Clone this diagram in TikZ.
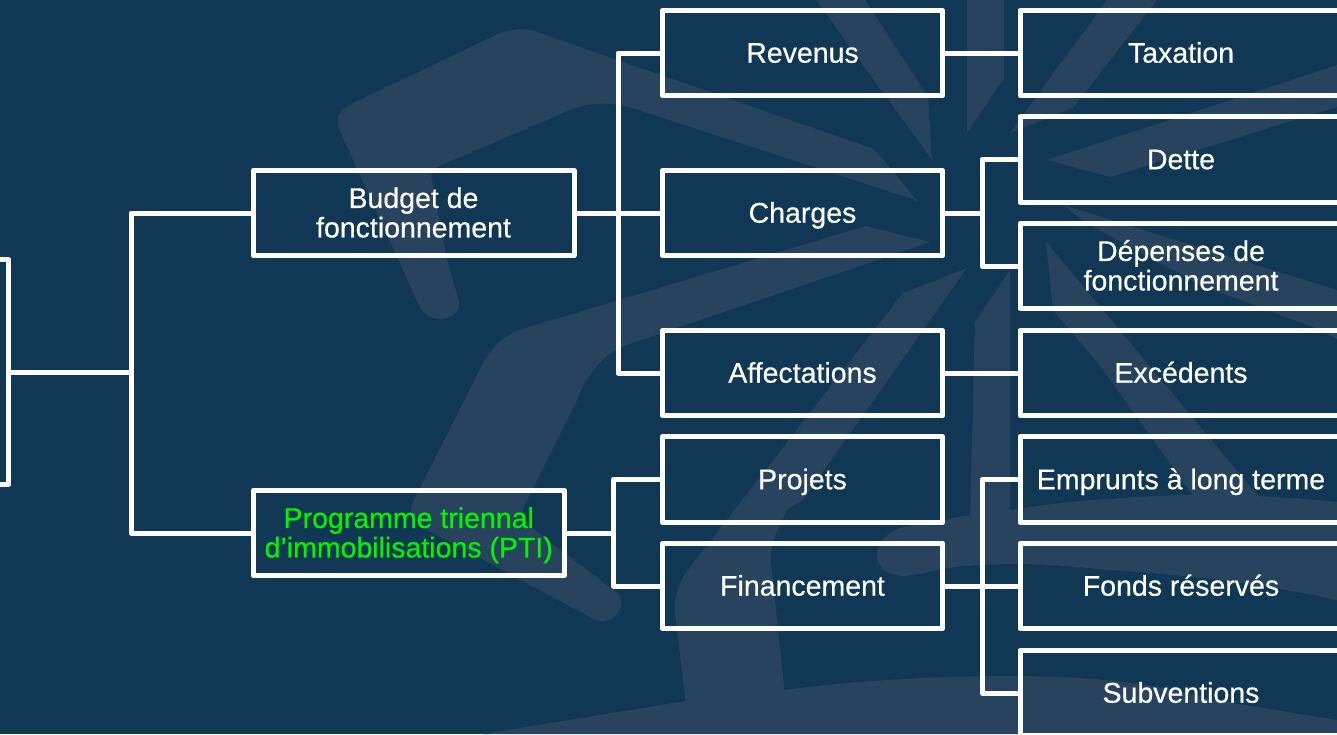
\documentclass[tikz,border=0pt]{standalone}
\usepackage{fontspec}
\setmainfont[FakeBold=0.5]{Liberation Sans}
\definecolor{bgc}{HTML}{103753}
\definecolor{wm}{HTML}{28435E}
\definecolor{grn}{HTML}{00F500}
\tikzset{
  x=1pt,y=-1pt,
  wmk/.style={fill=wm,draw=none},
  box/.style={draw=white,line width=5pt,line join=round,inner sep=0pt,outer sep=0pt,align=center,
    text=white,font=\fontsize{28.5}{29.5}\selectfont,text height=22pt,text depth=2.6pt},
  twoline/.style={text height=51.5pt},
  midbox/.style={box,minimum width=280.5pt,minimum height=85.5pt},
  rightbox/.style={box,minimum width=322pt,minimum height=85.5pt},
  conn/.style={draw=white,line width=5pt,line join=round},
}
\begin{document}
\begin{tikzpicture}
\clip (0,0) rectangle (1337,734);
\fill[bgc] (0,0) rectangle (1337,734);
% watermark
\fill[wmk] (338,127) .. controls (336,117) and (340,109) .. (353,103) -- (492,37)
  .. controls (505,29) and (525,27) .. (537,32) -- (874,149) -- (918,201) -- (639,110)
  .. controls (615,102) and (590,100) .. (563,113) -- (430,170) -- (447,260) -- (458,297)
  .. controls (462,312) and (452,319) .. (440,319) .. controls (428,319) and (421,311) .. (418,303) -- cycle;
\fill[wmk] (930,242) -- (866,226) -- (519,330) .. controls (505,335) and (492,347) .. (483,363)
  -- (412,504) .. controls (410,512) and (412,520) .. (420,526) -- (590,617)
  .. controls (600,624) and (612,622) .. (619,611) .. controls (624,602) and (620,593) .. (612,589)
  -- (535,530) .. controls (525,522) and (521,515) .. (524,506) -- (577,400)
  .. controls (585,378) and (600,358) .. (621,347) -- cycle;
\fill[wmk] (816,0) -- (865,0) -- (928,97) -- (932,160) -- cycle;
\fill[wmk] (967,0) -- (1004,0) -- (1004,78) -- (967,133) -- cycle;
\fill[wmk] (1107,0) -- (1157,0) -- (1073,108) -- (1010,133) -- cycle;
\fill[wmk] (1047,160) -- (1337,65) -- (1337,107) -- (1110,177) -- cycle;
\fill[wmk] (1046,242) -- (1259,497) -- (1194,497) -- (1101,367) -- (1053,310) -- cycle;
\fill[wmk] (1063,205) -- (1337,290) -- (1337,339) -- (1313,327) -- (1200,285) -- (1085,222) -- cycle;
\fill[wmk] (967,268) -- (903,293) -- (684,575) .. controls (677,588) and (674,600) .. (675,613)
  -- (686,705) -- (785,695) -- (771,563) .. controls (770,545) and (775,535) .. (787,510) -- (803,500) -- cycle;
\fill[wmk] (1010,270) -- (975,322) -- (970,519) -- (1010,515) -- cycle;
\fill[wmk] (882,540) .. controls (890,532) and (895,530) .. (903,527) -- (970,515) -- (1010,510)
  .. controls (1050,504) and (1080,500) .. (1108,499) .. controls (1160,495) and (1200,494) .. (1228,495)
  .. controls (1270,496) and (1310,499) .. (1337,502) -- (1337,600)
  .. controls (1270,585) and (1190,575) .. (1108,570) .. controls (1070,566) and (1040,564) .. (1019,564)
  .. controls (995,564) and (975,565) .. (954,567) -- (913,575) .. controls (895,578) and (880,574) .. (877,557)
  .. controls (877,550) and (878,545) .. (882,540) -- cycle;
\fill[wmk] (483,734) -- (686,701) -- (784,690) .. controls (860,680) and (940,676) .. (1009,676)
  .. controls (1100,676) and (1160,685) .. (1214,700) -- (1337,720) -- (1337,734) -- cycle;
% boxes
\node[box,minimum width=40pt,minimum height=225pt] (root) at (-11.5,372) {};
\node[box,twoline,minimum width=321pt,minimum height=85pt] (budget) at (413.5,213) {Budget de\\fonctionnement};
\node[box,twoline,minimum width=311.5pt,minimum height=85pt,text=grn] (pti) at (408.75,533) {Programme triennal\\d’immobilisations (PTI)};
\node[midbox] (revenus) at (802.5,53) {Revenus};
\node[midbox] (charges) at (802.5,213) {Charges};
\node[midbox] (affect) at (802.5,373) {Affectations};
\node[midbox] (projets) at (802.5,479.5) {Projets};
\node[midbox] (finance) at (802.5,586) {Financement};
\node[rightbox] (taxation) at (1181,53) {Taxation};
\node[rightbox] (dette) at (1181,159.5) {Dette};
\node[rightbox,twoline] (depenses) at (1181,266) {Dépenses de\\fonctionnement};
\node[rightbox] (excedents) at (1181,373) {Excédents};
\node[rightbox] (emprunts) at (1181,479.5) {Emprunts à long terme};
\node[rightbox] (fonds) at (1181,586) {Fonds réservés};
\node[rightbox] (subv) at (1181,693) {Subventions};
% junctions
\coordinate (j0) at (131,372);
\coordinate (j1) at (618,213);
\coordinate (j2) at (613.5,533);
\coordinate (j3) at (982,213);
\coordinate (j4) at (982,586);
% connectors
\draw[conn] (root.east) -- (j0);
\draw[conn] (budget.west) -| (j0) |- (pti.west);
\draw[conn] (budget.east) -- (charges.west);
\draw[conn] (revenus.west) -| (j1) |- (affect.west);
\draw[conn] (pti.east) -- (j2);
\draw[conn] (projets.west) -| (j2) |- (finance.west);
\draw[conn] (revenus.east) -- (taxation.west);
\draw[conn] (charges.east) -- (j3);
\draw[conn] (dette.west) -| (j3) |- (depenses.west);
\draw[conn] (affect.east) -- (excedents.west);
\draw[conn] (finance.east) -- (fonds.west);
\draw[conn] (emprunts.west) -| (j4) |- (subv.west);
\end{tikzpicture}
\end{document}
